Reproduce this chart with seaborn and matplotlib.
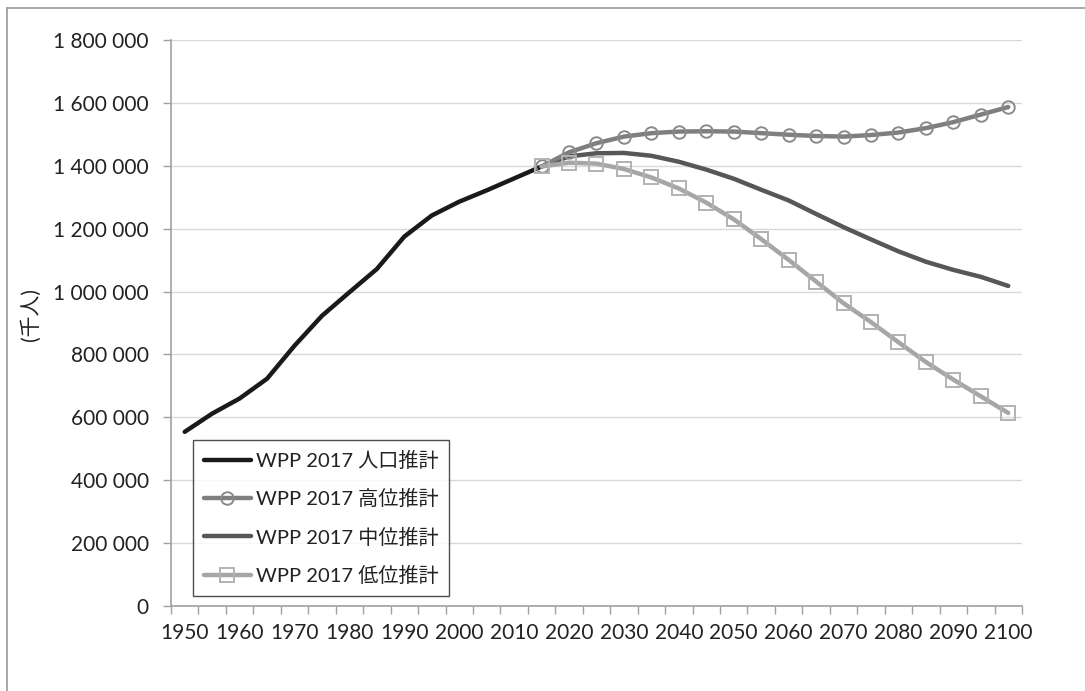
# %%
# === Load modules ===
import pandas as pd
import seaborn as sns
import matplotlib.pyplot as plt
from matplotlib.lines import Line2D
from matplotlib.ticker import FuncFormatter, MultipleLocator

# %%
# === Data (千人) ===
EST_YEARS  = list(range(1950, 2016, 5))
EST_POP    = [554000, 612000, 660000, 723000, 828000, 923000, 998000, 1072000,
              1175000, 1242000, 1286000, 1322000, 1360000, 1398000]

PROJ_YEARS = list(range(2015, 2101, 5))
HIGH_POP   = [1398000, 1443000, 1472000, 1493000, 1504000, 1509000, 1510000, 1509000, 1504000,
              1499000, 1495000, 1493000, 1498000, 1506000, 1520000, 1539000, 1563000, 1587000]
MED_POP    = [1398000, 1430000, 1440000, 1441000, 1432000, 1413000, 1388000, 1359000, 1324000,
              1290000, 1247000, 1205000, 1166000, 1128000, 1095000, 1069000, 1047000, 1018000]
LOW_POP    = [1398000, 1410000, 1407000, 1390000, 1363000, 1328000, 1283000, 1230000, 1167000,
              1101000, 1032000, 963000, 903000, 839000, 776000, 720000, 667000, 614000]

LABELS     = ['WPP 2017 人口推計', 'WPP 2017 高位推計', 'WPP 2017 中位推計', 'WPP 2017 低位推計']
Y_LABEL    = '(千人)'
X_LABELS   = list(range(1950, 2101, 10))

# %%
# === Style ===
sns.set_style('white')
plt.rcParams['font.family'] = ['Lato', 'Noto Sans CJK JP', 'DejaVu Sans']
FS = 14.5

est  = pd.DataFrame({'year': EST_YEARS, 'pop': EST_POP})
proj = pd.DataFrame({'year': PROJ_YEARS, 'high': HIGH_POP, 'med': MED_POP, 'low': LOW_POP})

fig = plt.figure(figsize=(10.85, 6.91), dpi=100)
ax  = fig.add_axes([0.1576, 0.123, 0.7843, 0.819])

sns.lineplot(data=est, x='year', y='pop', ax=ax, color='#1a1a1a', linewidth=3.2,
             label=LABELS[0], zorder=3)
sns.lineplot(data=proj, x='year', y='high', ax=ax, color='#7f7f7f', linewidth=3.2,
             marker='o', markersize=9, markerfacecolor='none', markeredgecolor='#8a8a8a',
             markeredgewidth=1.4, label=LABELS[1], zorder=4)
sns.lineplot(data=proj, x='year', y='med', ax=ax, color='#575757', linewidth=3.2,
             label=LABELS[2], zorder=3)
sns.lineplot(data=proj, x='year', y='low', ax=ax, color='#a6a6a6', linewidth=3.2,
             marker='s', markersize=9.5, markerfacecolor='none', markeredgecolor='#b2b2b2',
             markeredgewidth=1.4, label=LABELS[3], zorder=4)

# === Axes ===
ax.set_xlim(1947.5, 2102.5)
ax.set_ylim(0, 1800000)
ax.set_xticks(X_LABELS)
ax.set_xticklabels([str(x) for x in X_LABELS])
ax.xaxis.set_minor_locator(MultipleLocator(5, offset=2.5))
ax.set_yticks(range(0, 1800001, 200000))
ax.yaxis.set_major_formatter(FuncFormatter(lambda v, p: f"{v:,.0f}".replace(',', ' ')))

ax.tick_params(axis='x', which='major', length=0, pad=12, labelsize=FS + 0.5, labelcolor='#222222')
ax.tick_params(axis='x', which='minor', length=6, width=1, color='#a0a0a0', bottom=True)
ax.tick_params(axis='y', length=6, width=1, color='#a0a0a0', left=True, pad=10,
               labelsize=FS + 0.5, labelcolor='#222222')

ax.grid(axis='y', color='#d9d9d9', linewidth=1)
ax.set_axisbelow(True)
for s in ['top', 'right']:
    ax.spines[s].set_visible(False)
for s in ['left', 'bottom']:
    ax.spines[s].set_color('#a0a0a0')
    ax.spines[s].set_linewidth(1.2)
ax.set_xlabel('')
ax.set_ylabel('')

fig.text(0.028, 0.545, Y_LABEL, rotation=90, ha='center', va='center', fontsize=15, color='#222222')

leg = ax.legend(loc='lower left', bbox_to_anchor=(0.026, 0.018), borderaxespad=0,
                fontsize=FS, frameon=True, fancybox=False, handlelength=2.3,
                handletextpad=0.25, labelspacing=0.95, borderpad=0.55)
leg.get_frame().set_edgecolor('#222222')
leg.get_frame().set_linewidth(1)
for t in leg.get_texts():
    t.set_color('#222222')

# chart area border (only left and top visible)
fig.add_artist(Line2D([7 / 1085, 7 / 1085], [0, 1 - 8 / 691], color='#9a9a9a', linewidth=1.2))
fig.add_artist(Line2D([7 / 1085, 1], [1 - 8 / 691, 1 - 8 / 691], color='#9a9a9a', linewidth=1.2))

plt.savefig('out.png', dpi=100)
